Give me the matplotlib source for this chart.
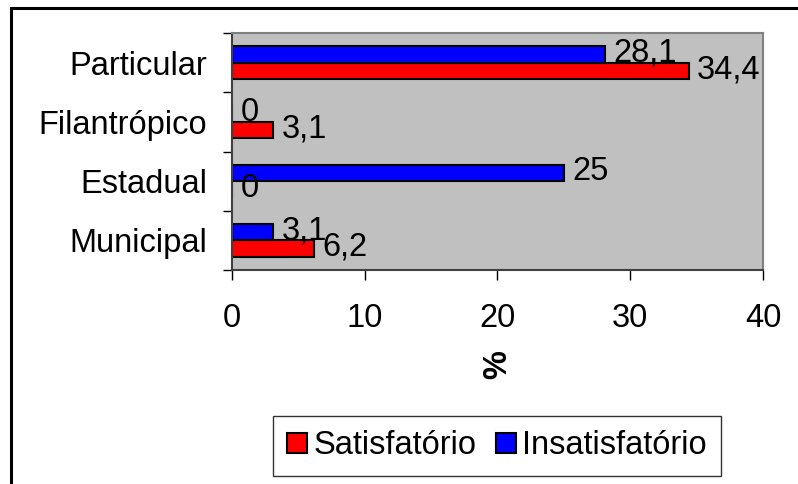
import numpy as np
import matplotlib
matplotlib.use("Agg")
import matplotlib.pyplot as plt
from matplotlib.patches import Rectangle

# ---- dados ----
categorias = ["Municipal", "Estadual", "Filantrópico", "Particular"]
satisfatorio = [6.2, 0, 3.1, 34.4]
insatisfatorio = [3.1, 25, 0, 28.1]
xticks = [0, 10, 20, 30, 40]

plt.rcParams['font.family'] = ['Liberation Sans', 'DejaVu Sans']
FS = 23.5

fig = plt.figure(figsize=(7.98, 4.84), dpi=100)
ax = fig.add_axes([0.2907, 0.4421, 0.6654, 0.4897])
ax.set_facecolor('#C0C0C0')

y = np.arange(len(categorias))
h = 0.28
b_sat = ax.barh(y - h / 2, satisfatorio, height=h, color='#FF0000',
                edgecolor='black', linewidth=1.5, label='Satisfatório')
b_ins = ax.barh(y + h / 2, insatisfatorio, height=h, color='#0000FF',
                edgecolor='black', linewidth=1.5, label='Insatisfatório')


def fmt(v):
    return f"{v:g}".replace('.', ',')


for bars, vals in ((b_sat, satisfatorio), (b_ins, insatisfatorio)):
    for rect, v in zip(bars, vals):
        ax.annotate(fmt(v), (rect.get_width(), rect.get_y() + rect.get_height() / 2),
                    xytext=(6, 1), textcoords='offset points',
                    ha='left', va='center', fontsize=FS, clip_on=False)

ax.set_xlim(0, 40)
ax.set_ylim(-0.5, len(categorias) - 0.5)
ax.set_xticks(xticks)
ax.set_xticklabels([str(t) for t in xticks])
ax.tick_params(axis='x', length=7, width=1, direction='out', pad=17, labelsize=FS)

ax.set_yticks(np.arange(len(categorias) + 1) - 0.5)
ax.set_yticklabels([])
ax.tick_params(axis='y', which='major', length=6.5, width=1, direction='out')
ax.set_yticks(y, minor=True)
ax.set_yticklabels(categorias, minor=True)
ax.tick_params(axis='y', which='minor', length=0, pad=18, labelsize=FS)

for s in ('top', 'right'):
    ax.spines[s].set_color('#808080')
    ax.spines[s].set_linewidth(1.5)
for s in ('left', 'bottom'):
    ax.spines[s].set_color('#404040')
    ax.spines[s].set_linewidth(1.5)

ax.set_xlabel('%', rotation=90, fontweight='bold', fontsize=FS, va='center')
ax.xaxis.set_label_coords(0.5, -0.40)

leg = fig.legend(handles=[b_sat, b_ins], loc='center', ncol=2,
                 bbox_to_anchor=(497 / 798, 1 - 446 / 484), fontsize=FS,
                 frameon=True, fancybox=False, edgecolor='black',
                 handlelength=0.6, handleheight=0.6, handletextpad=0.2,
                 columnspacing=0.6, borderpad=0.45, borderaxespad=0)
leg.get_frame().set_linewidth(1)

# moldura externa
fig.patches.append(Rectangle((11 / 798, -0.1), 1.0, 1 - 8 / 484 + 0.1,
                             transform=fig.transFigure, fill=False,
                             edgecolor='black', linewidth=2.2))

fig.savefig('out.png', dpi=100)
